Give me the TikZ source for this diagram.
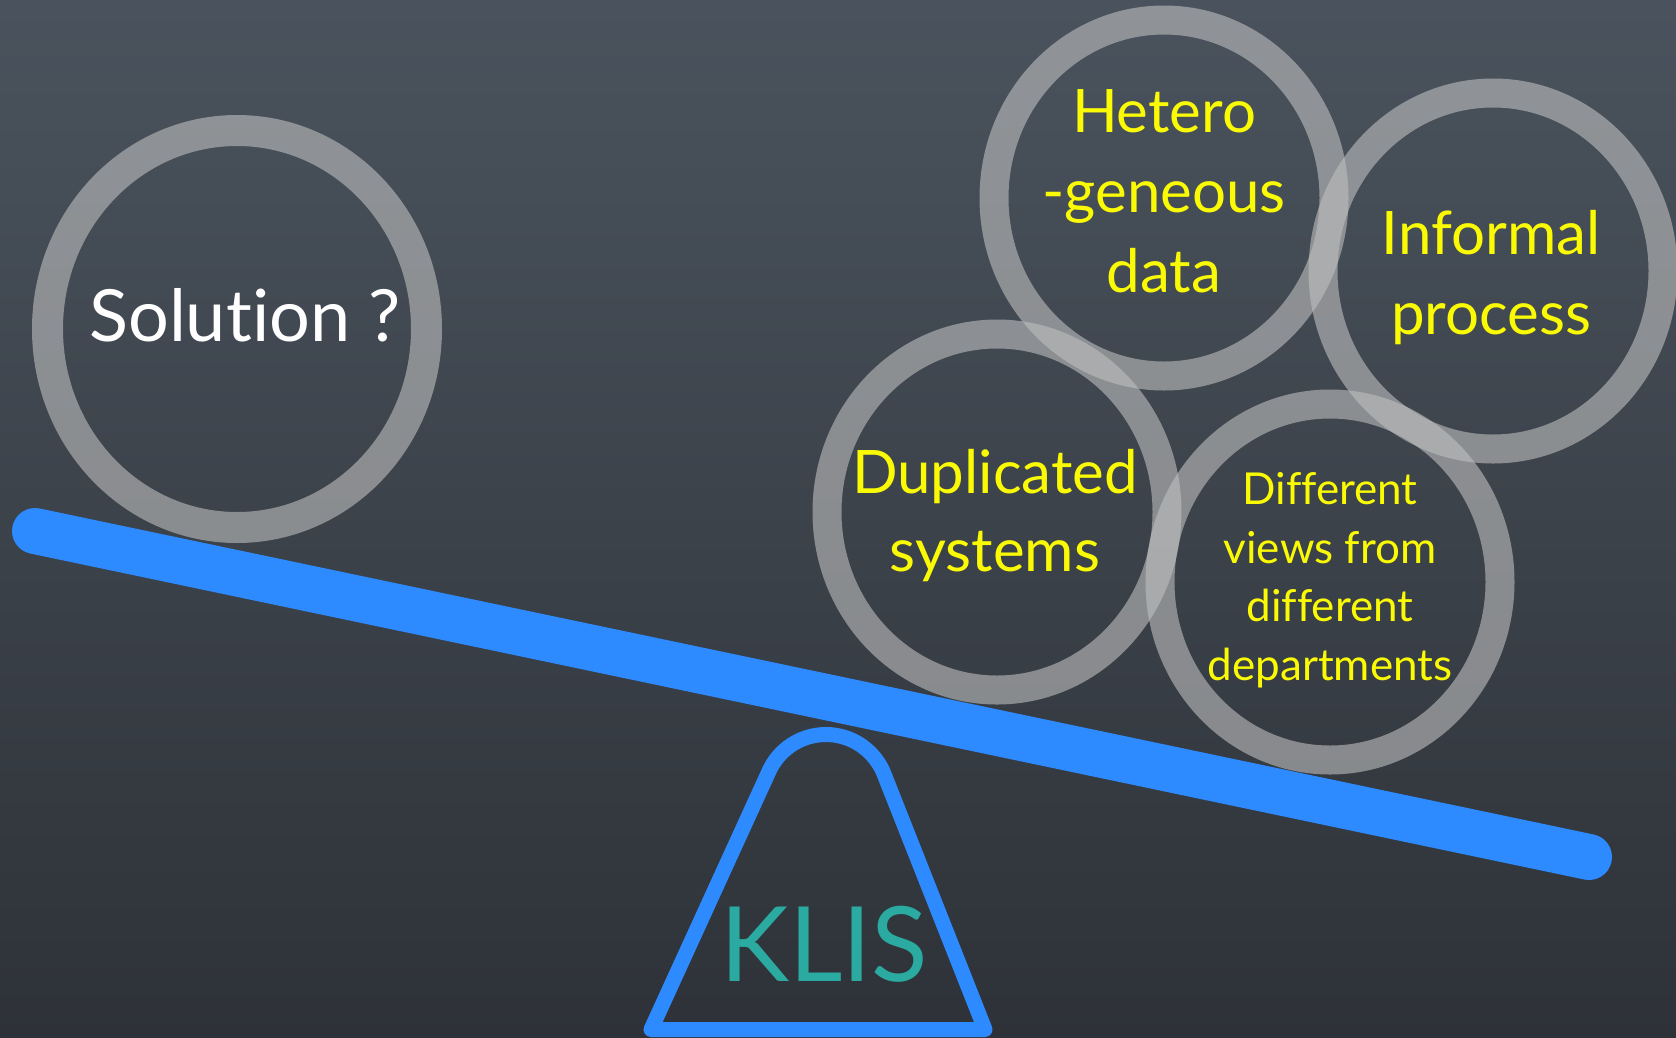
\documentclass[tikz,border=0pt]{standalone}
\usepackage{fontspec}
\setmainfont{Lato}[Ligatures={NoCommon,NoRare,NoContextual}]
\usepackage{tikz}

\definecolor{bgtop}{HTML}{4A535D}
\definecolor{bgbottom}{HTML}{2E3238}
\definecolor{ringgray}{gray}{0.75}
\definecolor{beamblue}{HTML}{2E8BFF}
\definecolor{klisteal}{HTML}{2AAAA0}
\definecolor{labelyellow}{HTML}{FAFA05}

\begin{document}
\begin{tikzpicture}[x=1pt,y=-1pt] % 1 unit = 1 pixel, y pointing down
	\tikzset{ring/.style={draw=ringgray,draw opacity=0.6,line width=29pt}}
	\tikzset{yellowlabel/.style={text=labelyellow,align=center,inner sep=0pt}}
	
	% Background
	\useasboundingbox (0,0) rectangle (1676,1037);
	\shade[top color=bgtop,bottom color=bgbottom] (0,0) rectangle (1676,1037);
	
	% Beam of the balance
	\coordinate (beamleft) at (35,531);
	\coordinate (beamright) at (1589,857);
	\draw[beamblue,line width=46pt,line cap=round] (beamleft) -- (beamright);
	
	% Fulcrum with rounded top
	\draw[beamblue,line width=15pt,line join=round]
		(651,1029.5) -- (769.2,770.8) arc[start angle=204.8,end angle=338.5,radius=62.5]
		-- (985,1029.5) -- cycle;
	\node[text=klisteal,font=\fontsize{104}{110}\selectfont,inner sep=0pt] (klis) at (824,944) {KLIS};
	
	% Left pan
	\draw[ring,line width=31pt] (237,329) ellipse [x radius=189.5,y radius=198.5];
	\node[text=white,font=\fontsize{72}{80}\selectfont,inner sep=0pt] (solution) at (245,315) {Solution ?};
	
	% Right pan: problems
	\draw[ring] (1164,198) ellipse [x radius=170,y radius=178];
	\draw[ring] (1493,271) ellipse [x radius=170,y radius=178];
	\draw[ring] (997,512) ellipse [x radius=170,y radius=178];
	\draw[ring] (1330,582) ellipse [x radius=170,y radius=178];
	
	\node[yellowlabel,font=\fontsize{60}{80}\selectfont] (hetero) at (1164,191) {Hetero\\-geneous\\data};
	\node[yellowlabel,font=\fontsize{60}{80}\selectfont] (informal) at (1491,278) {Informal\\process};
	\node[yellowlabel,font=\fontsize{60}{78}\selectfont] (duplicated) at (995,516) {Duplicated\\systems};
	\node[yellowlabel,font=\fontsize{44}{58.5}\selectfont] (views) at (1330,580) {Different\\views from\\different\\departments};
	
\end{tikzpicture}
\end{document}
